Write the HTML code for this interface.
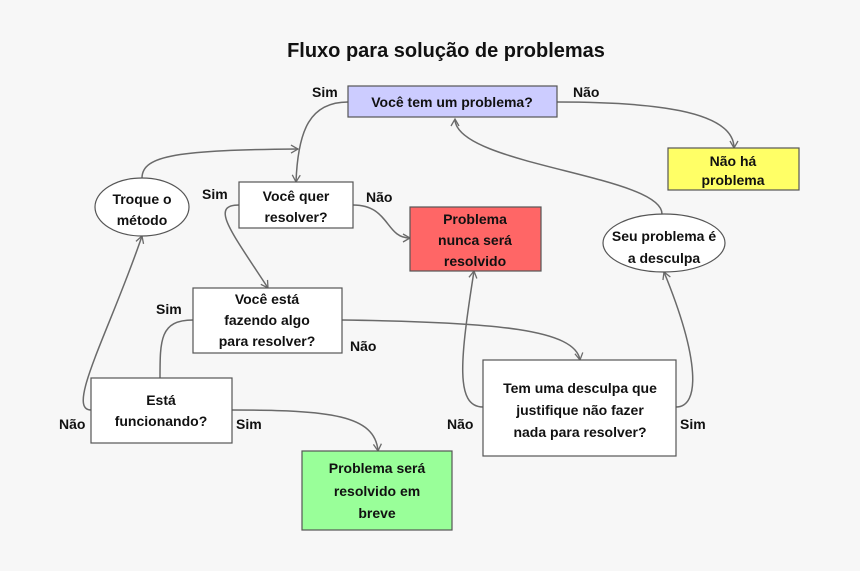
<!DOCTYPE html>
<html><head><meta charset="utf-8"><style>
html,body{margin:0;padding:0;background:#f7f7f7;}
svg{display:block;}
text{font-family:"Liberation Sans",sans-serif;font-weight:bold;font-size:14px;fill:#111;}
.c{fill:none;stroke:#6a6a6a;stroke-width:1.5;}
.b{stroke:#555;stroke-width:1.2;}
</style></head><body>
<svg width="860" height="571" viewBox="0 0 860 571">
<defs><marker id="a" markerWidth="10" markerHeight="10" refX="8" refY="5" orient="auto" markerUnits="userSpaceOnUse"><path d="M1,1 L8,5 L1,9" fill="none" stroke="#6a6a6a" stroke-width="1.3"/></marker></defs>
<rect width="860" height="571" fill="#f7f7f7"/>
<text x="446" y="57" text-anchor="middle" style="font-size:20px">Fluxo para solução de problemas</text>

<!-- connectors -->
<path class="c" d="M348,102 C310,102 298,130 296,182" marker-end="url(#a)"/>
<path class="c" d="M142,178 C142,155 180,150 298,149" marker-end="url(#a)"/>
<path class="c" d="M353,205 C390,205 385,238 410,238" marker-end="url(#a)"/>
<path class="c" d="M557,102 C650,102 734,110 734,148" marker-end="url(#a)"/>
<path class="c" d="M662,214 C662,175 455,165 455,119" marker-end="url(#a)"/>
<path class="c" d="M239,205 C210,205 230,230 268,288" marker-end="url(#a)"/>
<path class="c" d="M193,320 C160,320 160,340 160,378"/>
<path class="c" d="M342,320 C500,322 575,330 580,360" marker-end="url(#a)"/>
<path class="c" d="M91,410 C65,410 110,330 142,236" marker-end="url(#a)"/>
<path class="c" d="M232,410 C330,410 375,415 378,451" marker-end="url(#a)"/>
<path class="c" d="M483,407 C455,407 460,360 474,271" marker-end="url(#a)"/>
<path class="c" d="M676,407 C700,407 700,360 664,272" marker-end="url(#a)"/>

<!-- nodes -->
<rect class="b" x="348" y="86" width="209" height="31" fill="#ccccff"/>
<text x="452" y="107" text-anchor="middle">Você tem um problema?</text>

<rect class="b" x="668" y="148" width="131" height="42" fill="#ffff66"/>
<text x="733" y="166" text-anchor="middle">Não há</text>
<text x="733" y="185" text-anchor="middle">problema</text>

<ellipse class="b" cx="142" cy="207" rx="47" ry="29" fill="#fff"/>
<text x="142" y="204" text-anchor="middle">Troque o</text>
<text x="142" y="225" text-anchor="middle">método</text>

<rect class="b" x="239" y="182" width="114" height="46" fill="#fff"/>
<text x="296" y="201" text-anchor="middle">Você quer</text>
<text x="296" y="222" text-anchor="middle">resolver?</text>

<rect class="b" x="410" y="207" width="131" height="64" fill="#ff6666"/>
<text x="475" y="224" text-anchor="middle">Problema</text>
<text x="475" y="245" text-anchor="middle">nunca será</text>
<text x="475" y="266" text-anchor="middle">resolvido</text>

<ellipse class="b" cx="664" cy="243" rx="61" ry="29" fill="#fff"/>
<text x="664" y="241" text-anchor="middle">Seu problema é</text>
<text x="664" y="263" text-anchor="middle">a desculpa</text>

<rect class="b" x="193" y="288" width="149" height="65" fill="#fff"/>
<text x="267" y="304" text-anchor="middle">Você está</text>
<text x="267" y="325" text-anchor="middle">fazendo algo</text>
<text x="267" y="346" text-anchor="middle">para resolver?</text>

<rect class="b" x="91" y="378" width="141" height="65" fill="#fff"/>
<text x="161" y="405" text-anchor="middle">Está</text>
<text x="161" y="426" text-anchor="middle">funcionando?</text>

<rect class="b" x="302" y="451" width="150" height="79" fill="#99ff99"/>
<text x="377" y="473" text-anchor="middle">Problema será</text>
<text x="377" y="496" text-anchor="middle">resolvido em</text>
<text x="377" y="518" text-anchor="middle">breve</text>

<rect class="b" x="483" y="360" width="193" height="96" fill="#fff"/>
<text x="580" y="393" text-anchor="middle">Tem uma desculpa que</text>
<text x="580" y="415" text-anchor="middle">justifique não fazer</text>
<text x="580" y="437" text-anchor="middle">nada para resolver?</text>

<!-- labels -->
<text x="312" y="97">Sim</text>
<text x="573" y="97">Não</text>
<text x="202" y="199">Sim</text>
<text x="366" y="202">Não</text>
<text x="156" y="314">Sim</text>
<text x="350" y="351">Não</text>
<text x="59" y="429">Não</text>
<text x="236" y="429">Sim</text>
<text x="447" y="429">Não</text>
<text x="680" y="429">Sim</text>
</svg>
</body></html>
